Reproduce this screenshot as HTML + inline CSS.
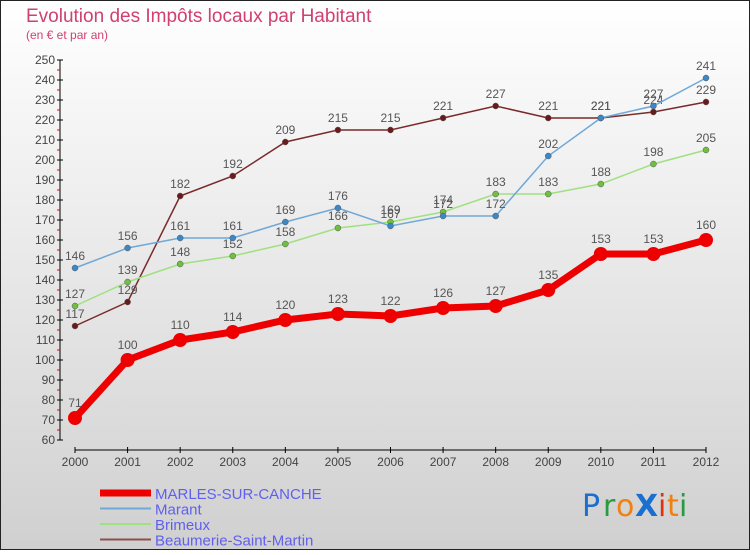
<!DOCTYPE html>
<html><head><meta charset="utf-8"><style>
body{margin:0;width:750px;height:550px;overflow:hidden;font-family:"Liberation Sans",sans-serif}
</style></head><body>
<svg id="c" width="750" height="550" xmlns="http://www.w3.org/2000/svg">
<defs><linearGradient id="bg" x1="0" y1="0" x2="0" y2="1"><stop offset="0" stop-color="#ffffff"/><stop offset="1" stop-color="#d0d0d0"/></linearGradient></defs>
<rect x="0.5" y="0.5" width="749" height="549" fill="url(#bg)" stroke="#222"/>
<text x="26" y="22" font-size="19" fill="#d04070">Evolution des Impôts locaux par Habitant</text>
<text x="26" y="39" font-size="12" fill="#d04070">(en € et par an)</text>
<g id="axes"></g><g id="series"></g><g id="legend"></g>
<g font-size="30" font-family="DejaVu Sans, sans-serif">
<text x="582" y="516" fill="#1a6fd0">P</text><text x="603" y="516" fill="#2a9a40">r</text><text x="616" y="516" fill="#f08010">o</text><text x="635" y="516" fill="#1a6fd0" font-weight="bold">X</text><text x="658" y="516" fill="#e03010">i</text><text x="667" y="516" fill="#f08010">t</text><text x="679" y="516" fill="#2a9a40">i</text></g>
</svg>
<script>
const years=["2000","2001","2002","2003","2004","2005","2006","2007","2008","2009","2010","2011","2012"];
const marles=[71,100,110,114,120,123,122,126,127,135,153,153,160];
const marant=[146,156,161,161,169,176,167,172,172,202,221,227,241];
const brimeux=[127,139,148,152,158,166,169,174,183,183,188,198,205];
const beaumerie=[117,129,182,192,209,215,215,221,227,221,221,224,229];
const yTicks=[60,70,80,90,100,110,120,130,140,150,160,170,180,190,200,210,220,230,240,250];
const NS="http://www.w3.org/2000/svg";
const X=i=>75+i*(706-75)/12, Y=v=>440-(v-60)*2;
function mk(t,a,p){const e=document.createElementNS(NS,t);for(const k in a)e.setAttribute(k,a[k]);p.appendChild(e);return e;}
const ax=document.getElementById('axes');
let e=mk('line',{x1:60,y1:60,x2:60,y2:440,stroke:'#000'},ax);

e=mk('line',{x1:75,y1:450,x2:706,y2:450,stroke:'#000'},ax);

yTicks.forEach(v=>{mk('line',{x1:57,y1:Y(v),x2:63,y2:Y(v),stroke:'#000'},ax);
 if(v<250)mk('line',{x1:57,y1:Y(v+5),x2:60,y2:Y(v+5),stroke:'#e00'},ax);
 const t=mk('text',{x:55,y:Y(v)+4,'text-anchor':'end','font-size':12,fill:'#444'},ax);t.textContent=v;
 });
years.forEach((y,i)=>{mk('line',{x1:X(i),y1:447,x2:X(i),y2:453,stroke:'#000'},ax);
 const t=mk('text',{x:X(i),y:466,'text-anchor':'middle','font-size':12,fill:'#444'},ax);t.textContent=y;
 });
const sg=document.getElementById('series');
const S=[[beaumerie,'#7a2a2a','#6a1a1a',1.5,3,'beaumerie'],[brimeux,'#a0e080','#70c040',1.5,3,'brimeux'],[marant,'#70a8d8','#3a88c8',1.5,3,'marant'],[marles,'#ee0000','#ee0000',7,7,'marles']];
S.forEach(([d,c,mc,w,r,n])=>{
 const p=mk('polyline',{points:d.map((v,i)=>X(i)+','+Y(v)).join(' '),fill:'none',stroke:c,'stroke-width':w},sg);
 
 d.forEach((v,i)=>{const m=mk('circle',{cx:X(i),cy:Y(v),r:r,fill:mc,stroke:r>3?'none':'#555','stroke-width':0.5},sg);
  
  const t=mk('text',{x:X(i),y:Y(v)-(r>3?11:8),'text-anchor':'middle','font-size':12,fill:'#555'},sg);t.textContent=v;
  });
});
const lg=document.getElementById('legend');
[['MARLES-SUR-CANCHE','#ee0000',7],['Marant','#70a8d8',2],['Brimeux','#a0e080',2],['Beaumerie-Saint-Martin','#8a5050',2]].forEach(([n,c,w],i)=>{
 const y=493+i*15.5;
 const l=mk('line',{x1:100,y1:y,x2:151,y2:y,stroke:c,'stroke-width':w},lg);
 
 const t=mk('text',{x:155,y:y+6,'font-size':15,fill:'#6060ee'},lg);t.textContent=n;
 });
</script>
</body></html>
